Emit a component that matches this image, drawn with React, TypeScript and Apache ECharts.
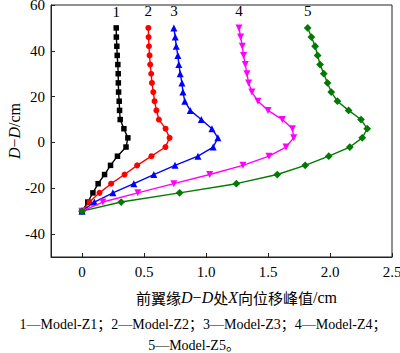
import React, { useEffect, useRef } from "react";
import * as echarts from "echarts";

const heights = [50, 46, 42, 38, 34, 30, 26, 22, 18, 14, 10, 6, 2, -2, -6, -10, -14, -18, -22, -26, -30];
const z1 = [0.276, 0.277, 0.281, 0.284, 0.289, 0.292, 0.293, 0.295, 0.3, 0.303, 0.308, 0.338, 0.37, 0.355, 0.286, 0.23, 0.182, 0.13, 0.088, 0.047, 0];
const z2 = [0.535, 0.537, 0.54, 0.545, 0.55, 0.558, 0.564, 0.575, 0.585, 0.6, 0.62, 0.674, 0.706, 0.673, 0.56, 0.445, 0.343, 0.235, 0.141, 0.06, 0];
const z3 = [0.741, 0.752, 0.76, 0.773, 0.781, 0.792, 0.806, 0.814, 0.829, 0.873, 0.962, 1.048, 1.096, 1.058, 0.935, 0.75, 0.579, 0.418, 0.249, 0.1, 0];
const z4 = [1.266, 1.279, 1.293, 1.303, 1.317, 1.33, 1.344, 1.37, 1.419, 1.5, 1.616, 1.697, 1.707, 1.645, 1.508, 1.298, 1.03, 0.741, 0.45, 0.168, 0];
const z5 = [1.82, 1.85, 1.88, 1.9, 1.92, 1.95, 1.98, 2.01, 2.06, 2.15, 2.25, 2.3, 2.26, 2.16, 1.99, 1.8, 1.575, 1.245, 0.787, 0.316, 0];

const seriesLabels = ["1", "2", "3", "4", "5"];
const seriesNames = ["Model-Z1", "Model-Z2", "Model-Z3", "Model-Z4", "Model-Z5"];
const xTicks = [0, 0.5, 1, 1.5, 2, 2.5];
const yTicks = [-40, -20, 0, 20, 40, 60];

const SERIF = '"Liberation Serif", "Times New Roman", serif';
const CJK = '"Noto Sans CJK SC", sans-serif';

export default function App() {
  const ref = useRef<HTMLDivElement>(null);
  useEffect(() => {
    if (!ref.current) return;
    const chart = echarts.init(ref.current, undefined, { renderer: "svg" });
    const all = [z1, z2, z3, z4, z5];
    const colors = ["#000000", "#ff0000", "#0000ff", "#ff00ff", "#007a00"];
    const symbols = ["rect", "circle", "triangle", "triangle", "rect"];
    const sizes = [5.5, 6, 7, 7, 5.5];
    const rotates = [0, 0, 0, 180, 45];
    const series = all.map((xs, s) => ({
      type: "line",
      name: seriesNames[s],
      data: heights.map((h, i) =>
        i === 0
          ? {
              value: [xs[i], h],
              label: {
                show: true,
                formatter: seriesLabels[s],
                position: "top",
                distance: 6,
                color: "#000",
                fontFamily: SERIF,
                fontSize: 15,
              },
            }
          : [xs[i], h]
      ),
      symbol: symbols[s],
      symbolSize: sizes[s],
      symbolRotate: rotates[s],
      showAllSymbol: true,
      itemStyle: { color: colors[s] },
      lineStyle: { color: colors[s], width: 1.4 },
      z: 2 + s,
    }));

    const richName = {
      c: { fontFamily: CJK, fontSize: 15, color: "#000" },
      i: { fontFamily: SERIF, fontStyle: "italic", fontSize: 16, color: "#000" },
      n: { fontFamily: SERIF, fontSize: 16, color: "#000" },
    };

    chart.setOption({
      animation: false,
      backgroundColor: "#ffffff",
      grid: {
        left: 51,
        right: 8,
        top: 5,
        bottom: 96,
        show: true,
        borderColor: "#222",
        borderWidth: 1,
        containLabel: false,
        outerBoundsMode: "none",
      },
      xAxis: {
        type: "value",
        min: -0.25,
        max: 2.5,
        splitLine: { show: false },
        axisLine: { show: true, onZero: false, lineStyle: { color: "#222", width: 1 } },
        axisTick: { show: true, inside: true, length: 4, customValues: xTicks, lineStyle: { color: "#222" } },
        axisLabel: {
          customValues: xTicks,
          formatter: (v: number) => (v === 0 ? "0" : v.toFixed(1)),
          color: "#000",
          fontFamily: SERIF,
          fontSize: 15,
          margin: 7,
        },
        name: "{c|前翼缘}{i|D}{n|−}{i|D}{c|处}{i|X}{c|向位移峰值}{n|/cm}",
        nameLocation: "middle",
        nameGap: 32,
        nameMoveOverlap: false,
        nameTextStyle: { rich: richName, padding: [0, 0, 0, 30] },
      },
      yAxis: {
        type: "value",
        min: -50,
        max: 60,
        splitLine: { show: false },
        axisLine: { show: true, onZero: false, lineStyle: { color: "#222", width: 1 } },
        axisTick: { show: true, inside: true, length: 4, customValues: yTicks, lineStyle: { color: "#222" } },
        axisLabel: {
          customValues: yTicks,
          color: "#000",
          fontFamily: SERIF,
          fontSize: 15,
          margin: 6,
        },
        name: "{i|D}{n|−}{i|D}{n|/cm}",
        nameLocation: "middle",
        nameGap: 29,
        nameMoveOverlap: false,
        nameTextStyle: { rich: richName },
      },
      graphic: [
        {
          type: "text",
          x: 203,
          y: 324,
          style: {
            text: "1—Model-Z1；2—Model-Z2；3—Model-Z3；4—Model-Z4；",
            font: '14px "Liberation Serif", "Noto Sans CJK SC", serif',
            fill: "#000",
            align: "center",
            verticalAlign: "middle",
          },
        },
        {
          type: "text",
          x: 194,
          y: 345,
          style: {
            text: "5—Model-Z5。",
            font: '14px "Liberation Serif", "Noto Sans CJK SC", serif',
            fill: "#000",
            align: "center",
            verticalAlign: "middle",
          },
        },
      ],
      series,
    });
    return () => chart.dispose();
  }, []);
  return (
    <div
      ref={ref}
      style={{ position: "fixed", left: 0, top: 0, width: 400, height: 353 }}
    />
  );
}
